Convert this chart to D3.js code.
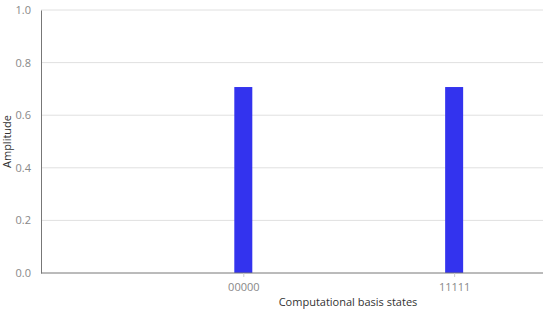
<!DOCTYPE html>
<html lang="en">
<head>
<meta charset="UTF-8" />
<title>Amplitude</title>
<script src="https://d3js.org/d3.v7.min.js"></script>
<style>
  body { margin: 0; background: #fff; }
  text { font-family: "Open Sans", "DejaVu Sans", sans-serif; }
</style>
</head>
<body>
<svg width="550" height="311"></svg>
<script>
  const width = 550;
  const height = 311;

  // data
  const states = ["00000", "11111"];
  const amplitudes = [0.7071, 0.7071];
  const yTicks = [0, 0.2, 0.4, 0.6, 0.8, 1.0];

  const margin = { top: 10, right: 7, bottom: 38, left: 41 };
  const w = width - margin.left - margin.right;
  const h = height - margin.top - margin.bottom;

  const svg = d3.select("svg");
  const g = svg.append("g").attr("transform", `translate(${margin.left},${margin.top})`);

  const x = d3.scalePoint().domain(states).range([w * 0.403, w * 0.823]);
  const y = d3.scaleLinear().domain([0, 1]).range([h, 0]);
  const barW = 18;

  // grid lines
  g.append("g")
    .selectAll("line")
    .data(yTicks.filter((d) => d > 0))
    .join("line")
    .attr("x1", 0)
    .attr("x2", w)
    .attr("y1", (d) => y(d))
    .attr("y2", (d) => y(d))
    .attr("stroke", "#e0e0e0")
    .attr("stroke-width", 1);

  // bars
  g.append("g")
    .selectAll("rect")
    .data(states)
    .join("rect")
    .attr("x", (d) => x(d) - barW / 2)
    .attr("y", (d, i) => y(amplitudes[i]))
    .attr("width", barW)
    .attr("height", (d, i) => h - y(amplitudes[i]))
    .attr("fill", "#3333ee");

  // y axis
  const yAxis = g.append("g")
    .call(d3.axisLeft(y).tickValues(yTicks).tickFormat(d3.format(".1f")).tickSize(0).tickPadding(10));
  yAxis.select(".domain").attr("stroke", "#777").attr("stroke-width", 1);
  yAxis.selectAll("text").attr("fill", "#888").style("font-size", "11px");

  // x axis
  const xAxis = g.append("g")
    .attr("transform", `translate(0,${h})`)
    .call(d3.axisBottom(x).tickSize(4).tickPadding(6));
  xAxis.select(".domain").attr("stroke", "#777").attr("stroke-width", 1)
    .attr("d", `M0,0H${w}`);
  xAxis.selectAll(".tick line").attr("stroke", "#ccc");
  xAxis.selectAll("text").attr("fill", "#888").style("font-size", "11px");

  // axis titles
  svg.append("text")
    .attr("transform", `translate(11,${margin.top + h / 2}) rotate(-90)`)
    .attr("text-anchor", "middle")
    .attr("fill", "#333")
    .style("font-size", "11px")
    .text("Amplitude");

  svg.append("text")
    .attr("x", 348)
    .attr("y", 306)
    .attr("text-anchor", "middle")
    .attr("fill", "#333")
    .style("font-size", "11px")
    .text("Computational basis states");
</script>
</body>
</html>
